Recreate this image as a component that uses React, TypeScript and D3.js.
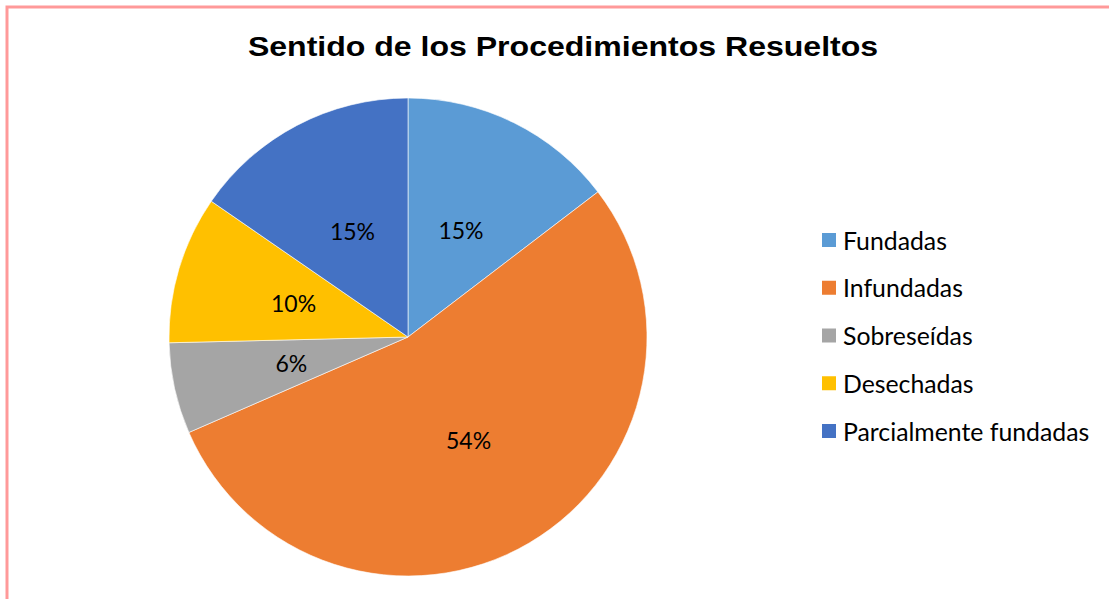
import * as d3 from "d3";

const WIDTH = 1109;
const HEIGHT = 599;
const CENTER = { x: 408, y: 337 };
const RADIUS = 239;

const TITLE = "Sentido de los Procedimientos Resueltos";
const categories = ["Fundadas", "Infundadas", "Sobreseídas", "Desechadas", "Parcialmente fundadas"];
const counts = [19, 70, 8, 13, 20];
const colors = ["#5B9BD5", "#ED7D31", "#A5A5A5", "#FFC000", "#4472C4"];

const FONT = "Lato, 'Open Sans', sans-serif";

export default function App() {
  const data = categories.map((name, i) => ({ name, value: counts[i], color: colors[i] }));
  const total = d3.sum(counts);

  // keep the original order, clockwise from 12 o'clock like Excel
  const pie = d3.pie<{ name: string; value: number; color: string }>()
    .sort(null)
    .value((d) => d.value);
  const arcs = pie(data);

  const arcGen = d3.arc<d3.PieArcDatum<any>>().innerRadius(0).outerRadius(RADIUS);
  const labelArc = d3.arc<d3.PieArcDatum<any>>().innerRadius(RADIUS * 0.5).outerRadius(RADIUS * 0.5);

  // legend rows
  const legendY = d3.scalePoint<string>().domain(categories).range([240, 431]);

  return (
    <div style={{ position: "fixed", left: 0, top: 0 }}>
      <svg width={WIDTH} height={HEIGHT} style={{ display: "block", background: "#fff" }}>
        <rect x={7} y={7} width={WIDTH + 20} height={HEIGHT + 20} fill="none" stroke="#FF9999" strokeWidth={3} />
        {/* title in the reference is stretched horizontally */}
        <g transform="translate(563,56) scale(1.145,1)">
          <text
            x={0}
            y={0}
            textAnchor="middle"
            fontFamily="'Liberation Sans', Arial, sans-serif"
            fontWeight="bold"
            fontSize={28}
            fill="#000"
          >
            {TITLE}
          </text>
        </g>
        <g transform={`translate(${CENTER.x},${CENTER.y})`}>
          {arcs.map((a, i) => (
            <path key={i} d={arcGen(a) ?? ""} fill={a.data.color} stroke="#fff" strokeOpacity={0.6} strokeWidth={1} />
          ))}
          {arcs.map((a, i) => {
            const [lx, ly] = labelArc.centroid(a);
            return (
              <text
                key={i}
                x={lx}
                y={ly}
                textAnchor="middle"
                dominantBaseline="central"
                fontFamily={FONT}
                fontSize={23}
                fill="#000"
              >
                {Math.round((a.data.value / total) * 100)}%
              </text>
            );
          })}
        </g>
        {data.map((d, i) => (
          <g key={i} transform={`translate(822,${legendY(d.name)})`}>
            <rect x={0} y={-7} width={14} height={14} fill={d.color} />
            <text x={21} y={0} dominantBaseline="central" fontFamily={FONT} fontSize={24.8} fill="#000">
              {d.name}
            </text>
          </g>
        ))}
      </svg>
    </div>
  );
}
